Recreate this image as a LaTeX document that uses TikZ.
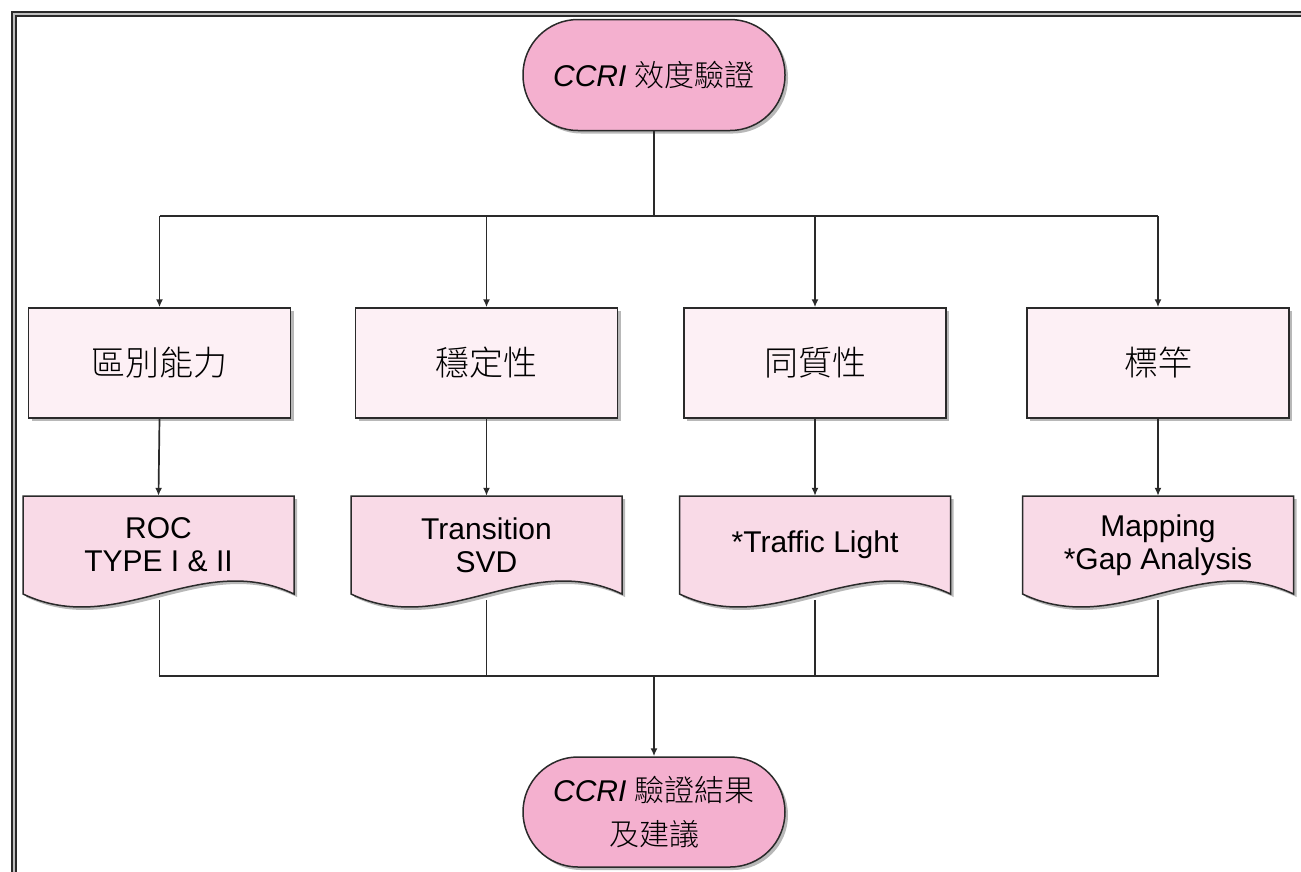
\documentclass[tikz,border=0pt]{standalone}
\usepackage{fontspec}
\setmainfont{Liberation Sans}
\newfontfamily\cjk{Noto Sans CJK TC Light}
\usetikzlibrary{shadows,arrows.meta,calc}
\definecolor{termfill}{HTML}{F4B0CF}
\definecolor{boxfill}{HTML}{FDF0F5}
\definecolor{docfill}{HTML}{F9DAE7}
\definecolor{edge}{HTML}{2A2A2A}
\newcommand\docshape[1]{%
  \fill[black,opacity=0.28,shift={(#1)},xshift=3pt,yshift=-3pt]
    (-135.5,-49) -- (135.5,-49) -- (135.5,49) .. controls (40.6,4) and (-40.6,94) .. (-135.5,49) -- cycle;
  \filldraw[draw=edge,fill=docfill,line width=1.5pt,shift={(#1)}]
    (-135.5,-49) -- (135.5,-49) -- (135.5,49) .. controls (40.6,4) and (-40.6,94) .. (-135.5,49) -- cycle;
}
\begin{document}
\begin{tikzpicture}[x=1pt,y=-1pt,
  shadowed/.style={drop shadow={shadow xshift=3pt,shadow yshift=-3pt,fill=black,opacity=0.28}},
  term/.style={draw=edge,line width=1.5pt,fill=termfill,rounded corners=55pt,minimum width=262pt,minimum height=111pt,align=center,font=\fontsize{30pt}{44pt}\selectfont,shadowed},
  box/.style={draw=edge,line width=1.5pt,fill=boxfill,minimum width=262pt,minimum height=110pt,font=\cjk\fontsize{34pt}{40pt}\selectfont,shadowed},
  doc/.style={minimum width=271pt,minimum height=98pt,align=center,font=\fontsize{30pt}{33pt}\selectfont,inner sep=0pt},
  conn/.style={draw=edge,line width=1.7pt},
  arr/.style={conn,-{Latex[length=8pt,width=7pt]}}
]
\useasboundingbox (0,0) rectangle (1301,871);
\begin{scope}
\clip (0,0) rectangle (1301,871);
\draw[gray!50,line width=5pt] (14,900) -- (14,14) -- (1320,14);
\draw[edge,line width=2pt] (12,900) -- (12,12) -- (1320,12);
\draw[edge,line width=2pt] (16,900) -- (16,16) -- (1320,16);
\end{scope}

% top terminal
\node[term] (top) at (654,75) {{\itshape CCRI} {\cjk 效度驗證}};

% boxes
\node[box] (b1) at (159.5,363) {區別能力};
\node[box] (b2) at (486.5,363) {穩定性};
\node[box] (b3) at (815,363) {同質性};
\node[box] (b4) at (1158,363) {標竿};

% connectors top
\coordinate (bus1) at (654,216);
\draw[conn] (top.south) -- (bus1);
\draw[conn] (b1.north |- bus1) -- (b4.north |- bus1);
\foreach \b in {b1,b2,b3,b4} \draw[arr] (\b.north |- bus1) -- (\b.north);

% bottom connectors (behind documents)
\coordinate (bus2) at (654,676);
\draw[conn] (159.5,600) -- (159.5,676) -- (1158,676) -- (1158,600);
\draw[conn] (486.5,600) -- (486.5,676);
\draw[conn] (815,600) -- (815,676);

% documents
\docshape{158.5,545}
\docshape{486.5,545}
\docshape{815,545}
\docshape{1158,545}
\node[doc] (d1) at (158.5,545) {ROC\\TYPE I \& II};
\node[doc] (d2) at (486.5,545) {Transition\\SVD};
\node[doc] (d3) at (815,545) {*Traffic Light};
\node[doc] (d4) at (1158,545) {Mapping\\*Gap Analysis};

\foreach \i in {1,2,3,4} \draw[arr] (b\i.south) -- (d\i.north);

% bottom terminal
\node[term,minimum height=110pt] (bot) at (654,812) {{\itshape CCRI} {\cjk 驗證結果}\\{\cjk 及建議}};
\draw[conn] (d1.south |- bus2) -- (bus2);
\draw[arr] (bus2) -- (bot.north);
\end{tikzpicture}
\end{document}
